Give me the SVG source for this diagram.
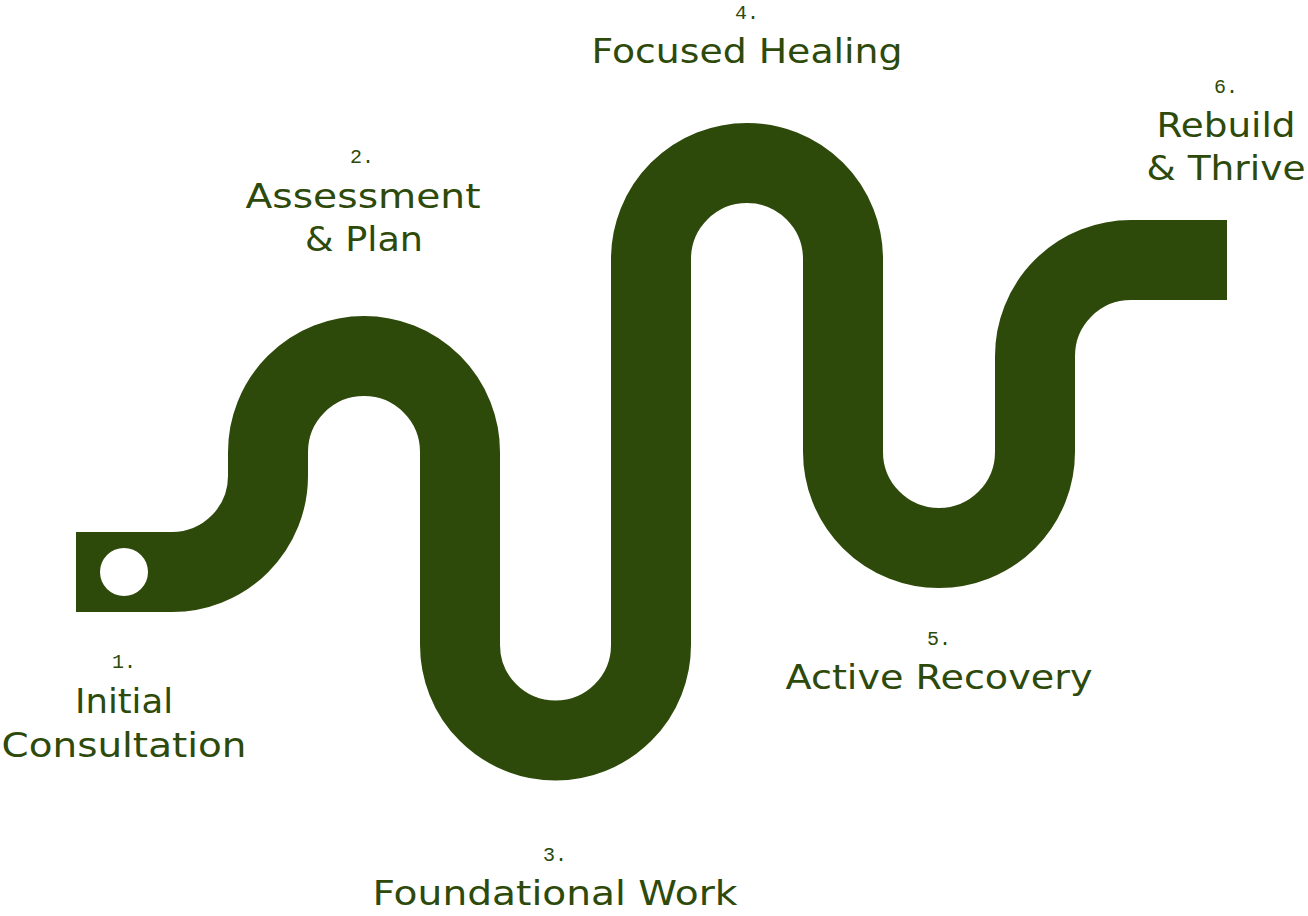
<svg xmlns="http://www.w3.org/2000/svg" width="1308" height="916" viewBox="0 0 1308 916">
<style>
.num{font-family:"Liberation Mono",monospace;font-size:20px;fill:#2d4a0a;text-anchor:middle}
.lbl{font-family:"DejaVu Sans",Inter,sans-serif;font-size:34px;fill:#2d4a0a;text-anchor:middle}
.road{fill:none;stroke:#2d4a0a;stroke-width:80}
</style>
<rect width="1308" height="916" fill="#fff"/>
<g id="connectors">
<path class="road" d="M76,572 H172 A96,96 0 0 0 268,476 V452 A96,96 0 0 1 460,452 V645 A95.5,95.5 0 0 0 651,645 V259 A96,96 0 0 1 843,259 V452 A96,96 0 0 0 1035,452 V356 A96,96 0 0 1 1131,260 H1227"/>
<circle cx="124" cy="572" r="24" fill="#fff"/>
</g>
<g id="step1"><text class="num" x="124" y="668">1.</text><text class="lbl" x="124" y="713" textLength="98" lengthAdjust="spacingAndGlyphs">Initial</text><text class="lbl" x="124" y="757" textLength="245" lengthAdjust="spacingAndGlyphs">Consultation</text></g>
<g id="step2"><text class="num" x="362" y="163">2.</text><text class="lbl" x="363" y="208" textLength="235" lengthAdjust="spacingAndGlyphs">Assessment</text><text class="lbl" x="364" y="251" textLength="118" lengthAdjust="spacingAndGlyphs">&amp; Plan</text></g>
<g id="step3"><text class="num" x="555" y="861">3.</text><text class="lbl" x="555" y="905" textLength="365" lengthAdjust="spacingAndGlyphs">Foundational Work</text></g>
<g id="step4"><text class="num" x="747" y="19">4.</text><text class="lbl" x="747" y="63" textLength="311" lengthAdjust="spacingAndGlyphs">Focused Healing</text></g>
<g id="step5"><text class="num" x="939" y="645">5.</text><text class="lbl" x="939" y="689" textLength="307" lengthAdjust="spacingAndGlyphs">Active Recovery</text></g>
<g id="step6"><text class="num" x="1226" y="93">6.</text><text class="lbl" x="1226" y="137" textLength="139" lengthAdjust="spacingAndGlyphs">Rebuild</text><text class="lbl" x="1226" y="180" textLength="159" lengthAdjust="spacingAndGlyphs">&amp; Thrive</text></g>
</svg>
